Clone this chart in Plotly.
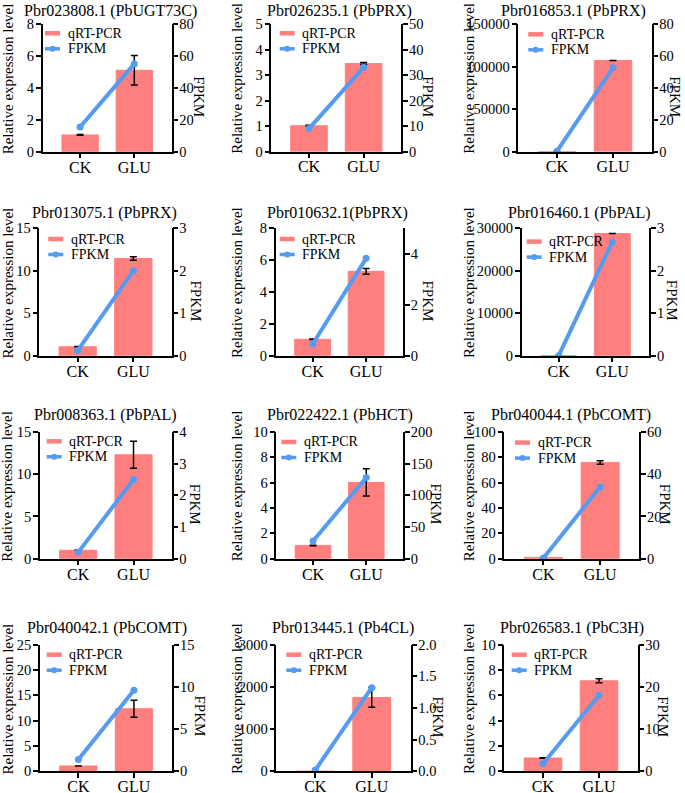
import plotly.graph_objects as go

# ---------------- data ----------------
titles = [
    "Pbr023808.1 (PbUGT73C)", "Pbr026235.1 (PbPRX)", "Pbr016853.1 (PbPRX)",
    "Pbr013075.1 (PbPRX)", "Pbr010632.1(PbPRX)", "Pbr016460.1 (PbPAL)",
    "Pbr008363.1 (PbPAL)", "Pbr022422.1 (PbHCT)", "Pbr040044.1 (PbCOMT)",
    "Pbr040042.1 (PbCOMT)", "Pbr013445.1 (Pb4CL)", "Pbr026583.1 (PbC3H)",
]
categories = ["CK", "GLU"]

qpcr_ck = [1.05, 1.01, 1.0, 1.05, 1.03, 1.0, 1.0, 1.05, 1.0, 1.05, 1.0, 1.05]
qpcr_glu = [5.1, 3.45, 107000, 11.45, 5.3, 28750, 12.3, 6.02, 76.0, 12.35, 1750, 7.15]
qpcr_ck_err = [0.02, 0.02, 0, 0.02, 0.02, 0, 0.02, 0.02, 0.1, 0.02, 0, 0.02]
qpcr_glu_err = [0.92, 0.04, 0, 0.2, 0.18, 0, 1.6, 1.07, 1.4, 1.7, 233, 0.16]

fpkm_ck = [15.5, 9.0, 0.2, 0.12, 0.45, 0.0, 0.2, 28, 0.3, 1.4, 0.02, 1.8]
fpkm_glu = [55, 33, 52.5, 2.0, 3.82, 2.68, 2.5, 128, 34, 9.6, 1.32, 18]

left_max = [8, 5, 150000, 15, 8, 30000, 15, 10, 100, 25, 3000, 10]
left_dtick = [2, 1, 50000, 5, 2, 10000, 5, 2, 20, 5, 1000, 2]
right_max = [80, 50, 80, 3, 5, 3, 4, 200, 60, 15, 2.0, 30]
right_dtick = [20, 10, 20, 1, 2, 1, 1, 50, 20, 5, 0.5, 10]

# ---------------- layout helpers ----------------
W, H = 685, 793
FONT = "Liberation Serif, Times New Roman, serif"
BAR = "#FF7F7F"
LINE = "#559BF2"

# plot boxes in pixels: left, right, top, bottom
boxes = [
    (42.7, 171.7, 24, 151.7), (271.3, 401.3, 24, 151.5), (518.3, 651.7, 24, 151.5),
    (39.3, 171.7, 228.3, 355.7), (275.7, 403, 228.3, 355.7), (521.7, 649.3, 228.3, 355.7),
    (40, 171.7, 432, 558.7), (276.3, 403, 432, 558.7), (504.3, 639.3, 432, 558.7),
    (40, 172.3, 644.7, 771.3), (276.3, 410.7, 644.7, 771.3), (504.3, 637.7, 644.7, 771.3),
]
title_x = [110, 339.7, 573.3, 104.2, 337.2, 579.3, 105.8, 339.7, 570.8, 107.2, 343.2, 572.2]
title_y_row = [11, 212.7, 415, 628]
ytitle_x_col = [7.5, 237, 469]
rtitle_dx = [27.3, 26.7, 23.3, 23.3, 24, 22.4, 23.3, 33.3, 25.7, 27.7, 27.3, 25.6]
leg_dx = [2.3, 8.4, 10, 9, 4, 5, 6.7, 5, 10.7, 6.7, 10, 7.4]
leg_dy = [9.3, 9.3, 10.3, 10.7, 10.7, 13.3, 9.3, 10, 10.6, 10, 10, 10]


def px(x):
    return x / W


def py(y):
    return 1 - y / H


fig = go.Figure()
layout = {}
shapes = []
annotations = []

axis_common = dict(showline=True, linecolor="black", linewidth=1.5, ticks="outside",
                   ticklen=5, tickwidth=1.5, tickcolor="black", showgrid=False,
                   zeroline=False, fixedrange=True, automargin=False)

for i in range(12):
    n = i + 1
    l, r, t, b = boxes[i]
    xa = "x" if n == 1 else f"x{n}"
    yl = "y" if n == 1 else f"y{2 * i + 1}"
    yr = f"y{2 * i + 2}"
    xkey = "xaxis" if n == 1 else f"xaxis{n}"
    ylkey = "yaxis" if n == 1 else f"yaxis{2 * i + 1}"
    yrkey = f"yaxis{2 * i + 2}"

    fig.add_trace(go.Bar(
        x=categories, y=[qpcr_ck[i], qpcr_glu[i]], width=0.67,
        marker=dict(color=BAR, line=dict(color=BAR, width=1)),
        error_y=dict(type="data", array=[qpcr_ck_err[i], qpcr_glu_err[i]],
                     color="black", thickness=1.5, width=3.5),
        xaxis=xa, yaxis=yl, showlegend=False, name="qRT-PCR"))
    fig.add_trace(go.Scatter(
        x=categories, y=[fpkm_ck[i], fpkm_glu[i]], mode="lines+markers",
        line=dict(color=LINE, width=4), marker=dict(size=7, color=LINE),
        xaxis=xa, yaxis=yr, showlegend=False, name="FPKM"))

    layout[xkey] = dict(axis_common, domain=[px(l), px(r)], anchor=yl, type="category",
                        range=[-0.69, 1.69], ticklabelstandoff=-5,
                        tickfont=dict(size=16, family=FONT))
    layout[ylkey] = dict(axis_common, domain=[py(b), py(t)], anchor=xa,
                         range=[0, left_max[i]], tick0=0, dtick=left_dtick[i],
                         tickformat="d", ticklabelstandoff=-1,
                         tickfont=dict(size=14.5, family=FONT))
    layout[yrkey] = dict(axis_common, overlaying=yl, side="right", anchor=xa,
                         range=[0, right_max[i]], tick0=0, dtick=right_dtick[i],
                         tickformat=".1f" if right_dtick[i] < 1 else "d",
                         ticklabelstandoff=-2,
                         tickfont=dict(size=14.5, family=FONT))

    row, col = i // 3, i % 3
    cy = (t + b) / 2
    # panel title
    annotations.append(dict(text=titles[i], x=px(title_x[i]), y=py(title_y_row[row]),
                            xref="paper", yref="paper", xanchor="center", yanchor="middle",
                            showarrow=False, font=dict(size=16, family=FONT, color="black")))
    # left axis title
    annotations.append(dict(text="Relative expression level", x=px(ytitle_x_col[col]),
                            y=py(cy - 9), xref="paper", yref="paper", textangle=-90,
                            xanchor="center", yanchor="middle", showarrow=False,
                            font=dict(size=15, family=FONT, color="black")))
    # right axis title
    annotations.append(dict(text="FPKM", x=px(r + rtitle_dx[i]), y=py(cy + 8.5),
                            xref="paper", yref="paper", textangle=90,
                            xanchor="center", yanchor="middle", showarrow=False,
                            font=dict(size=15, family=FONT, color="black")))
    # legend
    x0 = l + leg_dx[i]
    y1 = t + leg_dy[i]
    y2 = y1 + 15.5
    shapes.append(dict(type="line", xref="paper", yref="paper", x0=px(x0), x1=px(x0 + 15),
                       y0=py(y1), y1=py(y1), line=dict(color=BAR, width=4.5)))
    shapes.append(dict(type="line", xref="paper", yref="paper", x0=px(x0), x1=px(x0 + 15),
                       y0=py(y2), y1=py(y2), line=dict(color=LINE, width=3.5)))
    shapes.append(dict(type="circle", xref="paper", yref="paper",
                       x0=px(x0 + 4.5), x1=px(x0 + 10.5), y0=py(y2 + 3), y1=py(y2 - 3),
                       fillcolor=LINE, line=dict(color=LINE, width=0)))
    annotations.append(dict(text="qRT-PCR", x=px(x0 + 20.5), y=py(y1), xref="paper", yref="paper",
                            xanchor="left", yanchor="middle", showarrow=False,
                            font=dict(size=14, family=FONT, color="black")))
    annotations.append(dict(text="FPKM", x=px(x0 + 20.5), y=py(y2), xref="paper", yref="paper",
                            xanchor="left", yanchor="middle", showarrow=False,
                            font=dict(size=14, family=FONT, color="black")))

fig.update_layout(**layout)
fig.update_layout(
    width=W, height=H, margin=dict(l=0, r=0, t=0, b=0, pad=0, autoexpand=False),
    paper_bgcolor="white", plot_bgcolor="white",
    font=dict(family=FONT, color="black", size=14),
    shapes=shapes, annotations=annotations, showlegend=False,
)

fig.write_html(
    "out.html",
    config={"displayModeBar": False},
    post_script="document.body.style.margin='0';document.body.style.overflow='hidden';",
)
